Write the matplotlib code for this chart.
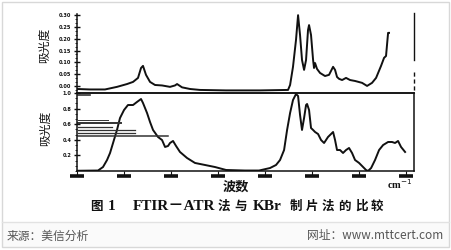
import matplotlib.pyplot as plt
import matplotlib.transforms as mtransforms
from matplotlib.ticker import AutoMinorLocator, FixedLocator
from matplotlib.patches import Rectangle
from matplotlib.lines import Line2D

# ATR spectrum (upper panel): wavenumber (cm-1) / absorbance
atr_wn = [4000, 3861, 3702, 3574, 3467, 3403, 3350, 3318, 3297, 3265, 3222,
          3169, 3094, 3009, 2956, 2934, 2881, 2796, 2689, 2412, 2050, 1752,
          1730, 1699, 1667, 1645, 1624, 1603, 1581, 1560, 1539, 1528, 1507,
          1485, 1475, 1464, 1443, 1411, 1358, 1315, 1272, 1251, 1230, 1208,
          1176, 1134, 1091, 1038, 963, 910, 857, 814, 761, 729, 708, 686, 676]
atr_abs = [-0.013, -0.015, -0.015, -0.004, 0.008, 0.017, 0.034, 0.076, 0.085,
           0.047, 0.017, 0.004, 0.002, -0.004, 0.002, 0.008, -0.006, -0.013,
           -0.017, -0.019, -0.019, -0.017, 0.004, 0.081, 0.195, 0.300, 0.216,
           0.110, 0.068, 0.110, 0.237, 0.258, 0.216, 0.110, 0.076, 0.097,
           0.072, 0.055, 0.042, 0.047, 0.081, 0.068, 0.038, 0.030, 0.025,
           0.034, 0.025, 0.021, 0.013, 0.000, 0.013, 0.034, 0.085, 0.119,
           0.127, 0.225, 0.225]

# KBr pellet spectrum (lower panel)
kbr_wn = [4000, 3776, 3723, 3680, 3648, 3616, 3574, 3542, 3499, 3457, 3403,
          3361, 3318, 3297, 3254, 3222, 3190, 3137, 3094, 3062, 3030, 3009,
          2977, 2945, 2903, 2828, 2743, 2636, 2530, 2412, 2210, 2061, 1944,
          1880, 1837, 1794, 1762, 1730, 1699, 1667, 1645, 1624, 1603, 1581,
          1560, 1549, 1528, 1507, 1485, 1464, 1432, 1400, 1368, 1326, 1272,
          1251, 1230, 1198, 1166, 1134, 1102, 1070, 1038, 995, 963, 921, 900,
          867, 825, 782, 739, 686, 644, 612, 580, 548, 505]
kbr_abs = [0.003, 0.006, 0.051, 0.141, 0.231, 0.359, 0.526, 0.679, 0.782,
           0.846, 0.846, 0.885, 0.923, 0.872, 0.744, 0.628, 0.526, 0.436,
           0.397, 0.308, 0.321, 0.359, 0.385, 0.321, 0.244, 0.167, 0.103,
           0.077, 0.051, 0.013, 0.006, 0.006, 0.038, 0.077, 0.141, 0.269,
           0.526, 0.744, 0.910, 0.987, 0.962, 0.718, 0.526, 0.679, 0.846,
           0.859, 0.782, 0.551, 0.526, 0.500, 0.474, 0.397, 0.359, 0.436,
           0.500, 0.397, 0.269, 0.269, 0.231, 0.269, 0.295, 0.231, 0.141,
           0.103, 0.064, 0.013, 0.000, 0.038, 0.141, 0.269, 0.333, 0.372,
           0.372, 0.359, 0.385, 0.308, 0.244]

x_ticks = [4000, 3500, 3000, 2500, 2000, 1500, 1000, 500]
atr_yticks = [0.0, 0.05, 0.10, 0.15, 0.20, 0.25, 0.30]
kbr_yticks = [0.2, 0.4, 0.6, 0.8, 1.0]

# caption pieces (letter-spaced in the scan) with their left edge in pixels
caption = [('图', 90, 9), ('1', 108, 11), ('FTIR－ATR', 133, 11), ('法', 218, 9),
           ('与', 234, 9), ('KBr', 253, 11), ('制', 290, 9), ('片', 306, 9),
           ('法', 322, 9), ('的', 338, 9), ('比', 355, 9), ('较', 371, 9)]

W, H = 452, 250
def fx(x):
    return x / W
def fy(y):
    return 1 - y / H

fig = plt.figure(figsize=(W / 100, H / 100), dpi=100)
fig.patch.set_facecolor('white')

# page frame and footer strip
fig.patches.append(Rectangle((fx(2), fy(247)), fx(447), 25 / H, transform=fig.transFigure,
                             facecolor='#fafafa', edgecolor='none', zorder=0))
fig.patches.append(Rectangle((fx(2), fy(247)), fx(447), 245 / H, transform=fig.transFigure,
                             facecolor='none', edgecolor='#d8d8d8', lw=1, zorder=1))
fig.lines.append(Line2D([fx(2), fx(449)], [fy(222), fy(222)], transform=fig.transFigure,
                        color='#e2e2e2', lw=1))

ax_up = fig.add_axes([fx(77), fy(93), 337 / W, 79 / H])
ax_lo = fig.add_axes([fx(77), fy(171), 337 / W, 78 / H])

ink = '#111111'
for ax in (ax_up, ax_lo):
    ax.set_facecolor('none')
    ax.set_xlim(4000, 410)
    for s in ax.spines.values():
        s.set_color(ink)
        s.set_linewidth(1.1)
    ax.spines['top'].set_visible(False)
    ax.spines['right'].set_visible(False)
    ax.tick_params(axis='y', which='major', direction='inout', length=4, width=1.0,
                   color=ink, labelsize=3.6, pad=2, labelcolor=ink)
    ax.tick_params(axis='y', which='minor', direction='out', length=1.8, width=0.6, color=ink)
    ax.yaxis.set_minor_locator(AutoMinorLocator(3))
    ax.tick_params(axis='x', which='both', length=0, labelbottom=False)

ax_up.set_ylim(-0.030, 0.305)
ax_up.yaxis.set_major_locator(FixedLocator(atr_yticks))
ax_up.set_yticklabels([f'{v:.2f}' for v in atr_yticks], fontweight='bold')
ax_up.plot(atr_wn, atr_abs, color=ink, lw=1.4, solid_joinstyle='round')

ax_lo.set_ylim(0, 1.0)
ax_lo.yaxis.set_major_locator(FixedLocator(kbr_yticks))
ax_lo.set_yticklabels([f'{v:.1f}' for v in kbr_yticks], fontweight='bold')
ax_lo.spines['top'].set_visible(True)
ax_lo.spines['right'].set_visible(True)
ax_lo.plot(kbr_wn, kbr_abs, color=ink, lw=1.4, solid_joinstyle='round')

# right-hand marker line of the upper trace (broken in the scan)
ax_up.plot([1, 1], [1.015, 0.42], transform=ax_up.transAxes, color=ink, lw=1.0, clip_on=False)
ax_up.plot([1, 1], [0.26, 0.0], transform=ax_up.transAxes, color=ink, lw=1.0,
           dashes=(3, 2), clip_on=False)

# x tick labels of the scan, blurred to thick dashes
trans = mtransforms.blended_transform_factory(ax_lo.transData, ax_lo.transAxes)
ax_lo.plot(x_ticks, [-0.064] * len(x_ticks), transform=trans, ls='none', marker='_',
           ms=10, mew=2.6, color=ink, clip_on=False)
ax_lo.plot(x_ticks, [-0.03] * len(x_ticks), transform=trans, ls='none', marker='|',
           ms=3, mew=0.8, color=ink, clip_on=False)

# illegible legend rows in the scanned lower panel
legend_rows = [(0.003, 0.092, 0.660, 0.7), (0.003, 0.131, 0.619, 1.4),
               (0.003, 0.104, 0.568, 0.9), (0.003, 0.173, 0.532, 0.9),
               (0.003, 0.173, 0.491, 0.9), (0.003, 0.271, 0.449, 1.1),
               (0.003, 0.040, 0.975, 1.2)]
for x0, x1, yy, lw in legend_rows:
    ax_lo.plot([x0, x1], [yy, yy], transform=ax_lo.transAxes, color='#333333', lw=lw)

cjk = ['Noto Sans CJK SC', 'DejaVu Sans']
serif = ['Liberation Serif', 'Noto Sans CJK SC']

fig.text(fx(45), fy(45), '吸光度', rotation=90, ha='center', va='center',
         fontsize=8.5, family=cjk, color=ink)
fig.text(fx(46), fy(128), '吸光度', rotation=90, ha='center', va='center',
         fontsize=8.5, family=cjk, color=ink)
fig.text(fx(236), fy(187), '波数', ha='center', va='center', fontsize=9.5,
         family=cjk, weight='bold', color=ink)
fig.text(fx(387), fy(184), 'cm$^{-1}$', ha='left', va='center', fontsize=7.5,
         family=serif, weight='bold', color=ink)

for piece, left, size in caption:
    fig.text(fx(left), fy(207), piece, ha='left', va='center', fontsize=size,
             family=serif, weight='bold', color=ink)

fig.text(fx(7), fy(236), '来源：美信分析', ha='left', va='center', fontsize=8.5,
         family=cjk, color='#555555')
fig.text(fx(443), fy(236), '网址：www.mttcert.com', ha='right', va='center',
         fontsize=8.5, family=cjk, color='#555555')

fig.savefig('out.png', dpi=100)
